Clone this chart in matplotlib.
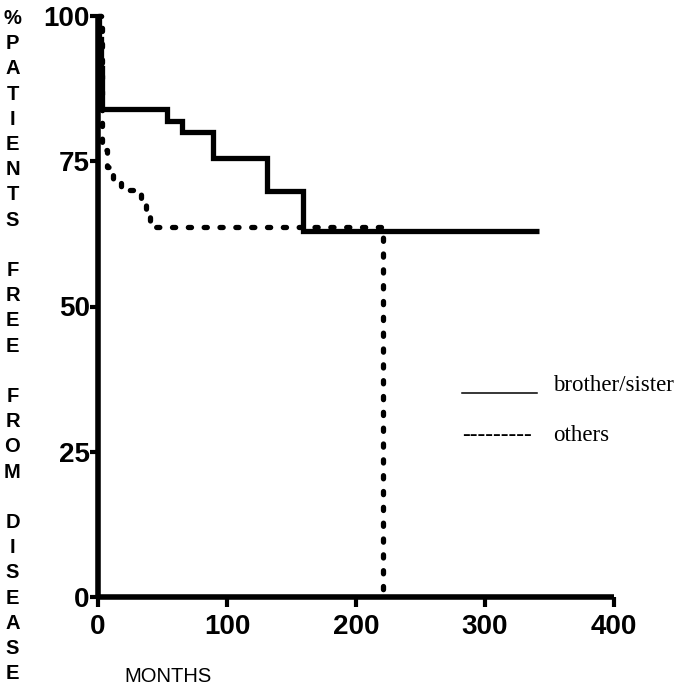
import matplotlib
matplotlib.use('Agg')
import matplotlib.pyplot as plt
from matplotlib.lines import Line2D

# ---- data ----
months_sibling = [0, 1, 2, 3, 53.5, 65, 89, 131, 159, 342]
free_sibling = [100, 96, 91, 84, 82, 80, 75.5, 69.8, 63, 63]

months_others = [0, 3, 7, 12, 18, 33, 37, 40, 221]
free_others = [100, 77, 74, 72, 70, 68, 66, 63.6, 0]

x_ticks = [0, 100, 200, 300, 400]
y_ticks = [0, 25, 50, 75, 100]
x_tick_labels = ['0', '100', '200', '300', '400']
y_tick_labels = ['0', '25', '50', '75', '100']

ylabel_text = "%PATIENTS FREE FROM DISEASE"
xlabel_text = "MONTHS"
legend_labels = ['brother/sister', 'others']

W, H = 685, 688
fig = plt.figure(figsize=(W / 100, H / 100), dpi=100)
ax = fig.add_axes([98 / W, 1 - 597 / H, (614 - 98) / W, (597 - 16) / H])

sans = 'Liberation Sans'
serif = 'Liberation Serif'

ax.plot(months_sibling, free_sibling, drawstyle='steps-post', color='black',
        lw=3.8, solid_capstyle='butt', solid_joinstyle='miter', clip_on=False, zorder=3)
ax.plot(months_others, free_others, drawstyle='steps-post', color='black',
        lw=3.8, linestyle=(0, (0.6, 2.4)), dash_capstyle='round', clip_on=False, zorder=3)

ax.set_xlim(0, 400)
ax.set_ylim(0, 100)
for s in ['top', 'right']:
    ax.spines[s].set_visible(False)
for s in ['left', 'bottom']:
    ax.spines[s].set_linewidth(4)
    ax.spines[s].set_capstyle('butt')

ax.set_xticks(x_ticks)
ax.set_xticklabels(x_tick_labels, fontsize=20, fontweight='bold', family=sans)
ax.set_yticks(y_ticks)
ax.set_yticklabels(y_tick_labels, fontsize=20, fontweight='bold', family=sans)
ax.tick_params(axis='x', direction='out', length=7, width=3, pad=5)
ax.tick_params(axis='y', direction='out', length=6, width=3, pad=0)

# vertical stacked y label
for i, ch in enumerate(ylabel_text):
    if ch == ' ':
        continue
    fig.text(12.5 / W, 1 - (18.5 + i * 25.2) / H, ch, ha='center', va='center',
             fontsize=14.5, fontweight='bold', family=sans)

fig.text(168 / W, 1 - 676 / H, xlabel_text, ha='center', va='center',
         fontsize=14.5, family=sans)

# legend
fig.add_artist(Line2D([462 / W, 537 / W], [1 - 393 / H, 1 - 393 / H],
                      transform=fig.transFigure, color='black', lw=1.1))
fig.text(553 / W, 1 - 391 / H, legend_labels[0], ha='left', va='baseline',
         fontsize=16.5, family=serif)
fig.text(462 / W, 1 - 441 / H, '-' * 9, ha='left', va='baseline',
         fontsize=16.5, family=serif)
fig.text(553 / W, 1 - 441 / H, legend_labels[1], ha='left', va='baseline',
         fontsize=16.5, family=serif)

fig.savefig('out.png', dpi=100)
